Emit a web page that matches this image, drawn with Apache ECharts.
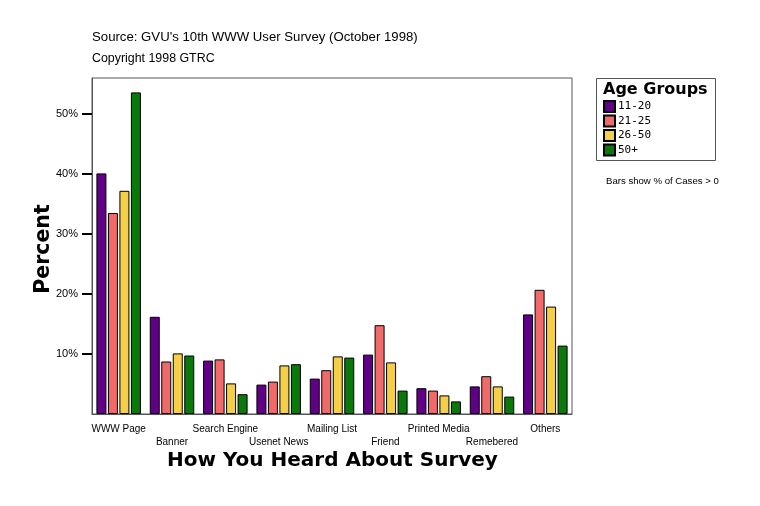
<!DOCTYPE html>
<html><head><meta charset="utf-8">
<script src="https://cdn.jsdelivr.net/npm/echarts@6/dist/echarts.min.js"></script>
<style>html,body{margin:0;padding:0;background:#fff}#c{width:760px;height:506px}</style>
</head><body><div id="c"></div>
<script>
const categories = ['WWW Page','Banner','Search Engine','Usenet News','Mailing List','Friend','Printed Media','Remebered','Others'];
const seriesNames = ['11-20','21-25','26-50','50+'];
const age11_20 = [40.1, 16.2, 8.9, 4.9, 5.9, 9.9, 4.3, 4.6, 16.6];
const age21_25 = [33.5, 8.75, 9.1, 5.4, 7.3, 14.8, 3.9, 6.3, 20.7];
const age26_50 = [37.2, 10.1, 5.1, 8.1, 9.6, 8.6, 3.1, 4.6, 17.9];
const age50p   = [53.6, 9.75, 3.3, 8.3, 9.4, 3.9, 2.1, 2.9, 11.4];
const colors = ['#5F0087','#F06A6A','#F5CF48','#0A780A'];
const values = [age11_20, age21_25, age26_50, age50p];

const chart = echarts.init(document.getElementById('c'));
const sans = 'Liberation Sans, Arial, sans-serif';
chart.setOption({
  animation: false,
  backgroundColor: '#fff',
  grid: {left: 92, right: 188, top: 78, bottom: 92, show: true, borderColor: '#555', borderWidth: 1, backgroundColor: '#fff'},
  legend: {
    orient: 'vertical', left: 603, top: 100, itemWidth: 11, itemHeight: 11, itemGap: 1.5,
    icon: 'rect', padding: 0,
    textStyle: {fontFamily: 'DejaVu Sans Mono, monospace', fontSize: 11, lineHeight: 11, color: '#000', padding: [0,0,0,-2]},
    data: seriesNames
  },
  xAxis: {
    type: 'category', data: categories,
    axisLine: {lineStyle: {color: '#555'}},
    axisTick: {alignWithLabel: true, length: 6, lineStyle: {color: '#000', width: 2}},
    axisLabel: {
      interval: 0, fontFamily: sans, fontSize: 10, color: '#000', margin: 9, lineHeight: 13,
      formatter: function (v, i) { return i % 2 === 1 ? '\n' + v : v; }
    }
  },
  yAxis: {
    type: 'value', min: 0, max: 56, interval: 10,
    splitLine: {show: false},
    axisLine: {show: true, lineStyle: {color: '#555'}},
    axisTick: {show: true, length: 10, lineStyle: {color: '#000', width: 2}},
    axisLabel: {fontFamily: sans, fontSize: 11, color: '#000', showMinLabel: false, showMaxLabel: false, margin: 14,
      formatter: function (v) { return v + '%'; }}
  },
  series: seriesNames.map(function (n, k) {
    return {name: n, type: 'bar', data: values[k], barWidth: 10, barGap: '15%',
      itemStyle: {color: colors[k], borderColor: '#000', borderWidth: 1}};
  }),
  graphic: [
    {type: 'text', left: 92, top: 31, style: {text: "Source: GVU's 10th WWW User Survey (October 1998)", font: '13.2px ' + sans, fill: '#000'}},
    {type: 'text', left: 92, top: 53, style: {text: 'Copyright 1998 GTRC', font: '12.4px ' + sans, fill: '#000'}},
    {type: 'text', left: 167, top: 451, style: {text: 'How You Heard About Survey', font: 'bold 20px DejaVu Sans, sans-serif', fill: '#000'}},
    {type: 'text', x: 44, y: 249, rotation: Math.PI / 2, style: {text: 'Percent', font: 'bold 20.5px DejaVu Sans, sans-serif', fill: '#000', align: 'center', verticalAlign: 'middle'}},
    {type: 'rect', shape: {x: 596.5, y: 78.5, width: 119, height: 82}, style: {fill: 'none', stroke: '#555', lineWidth: 1}},
    {type: 'text', left: 603, top: 82, style: {text: 'Age Groups', font: 'bold 16px DejaVu Sans, sans-serif', fill: '#000'}},
    {type: 'text', left: 606, top: 176, style: {text: 'Bars show % of Cases > 0', font: '9.6px ' + sans, fill: '#000'}}
  ]
});
</script></body></html>
